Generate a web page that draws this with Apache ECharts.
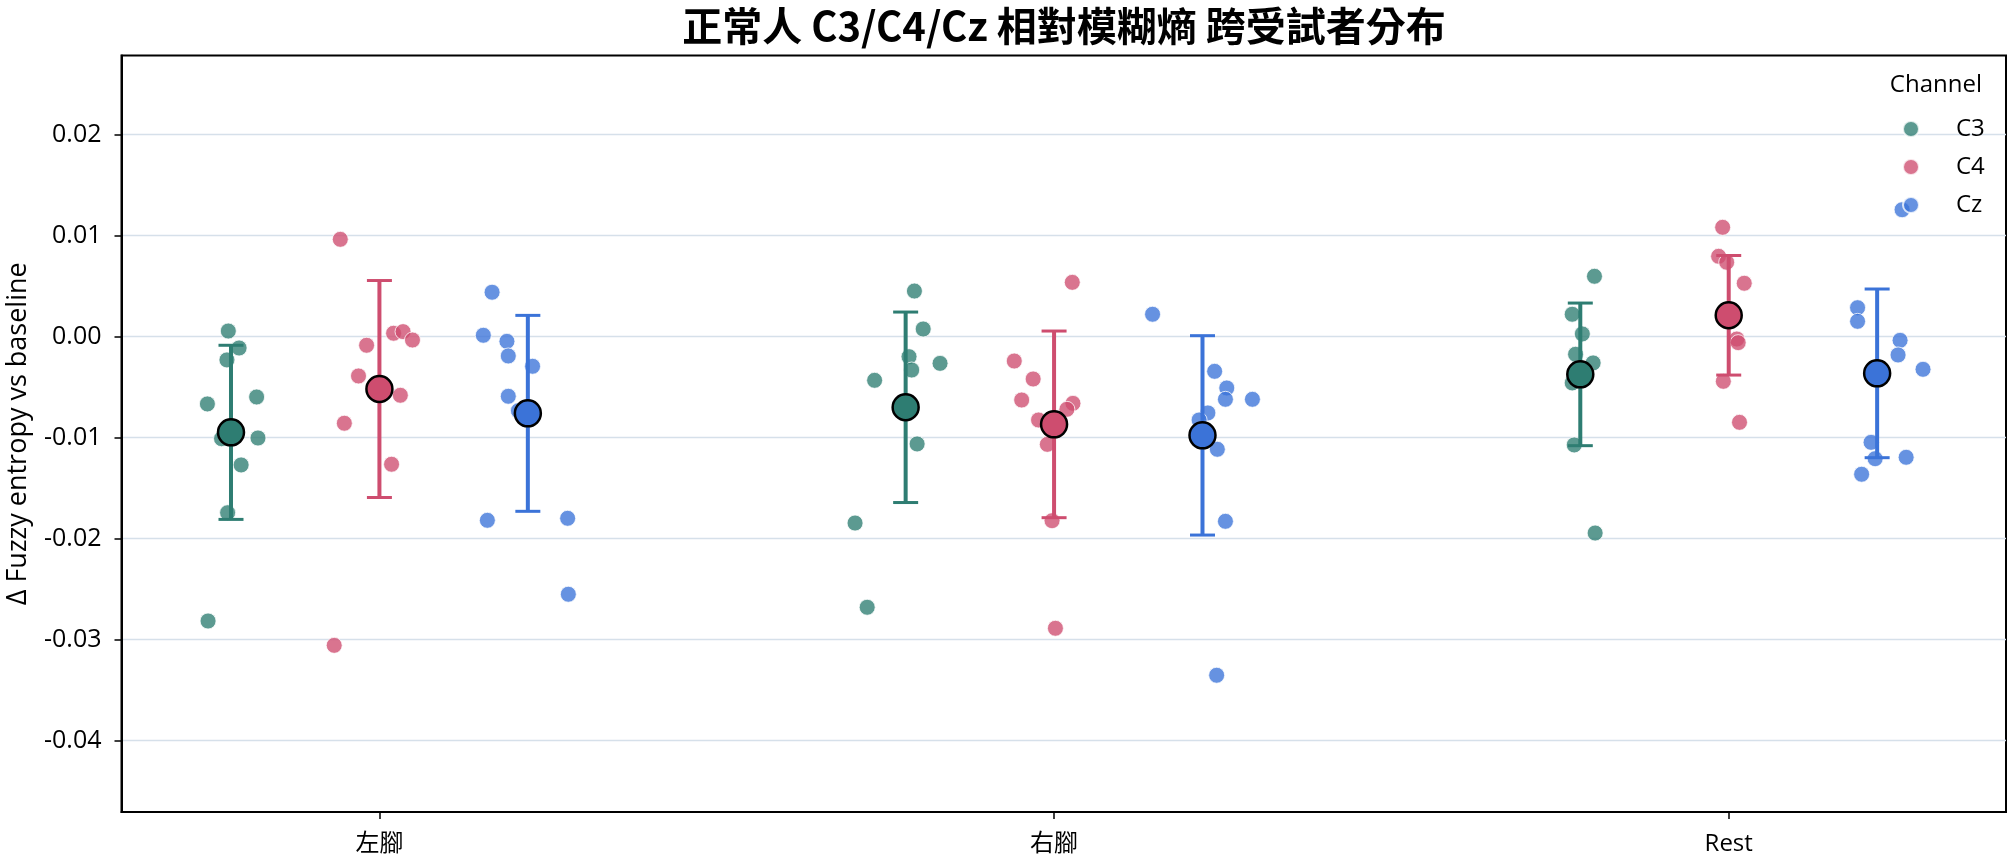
<!DOCTYPE html>
<html>
<head>
<meta charset="utf-8">
<title>正常人 C3/C4/Cz 相對模糊熵 跨受試者分布</title>
<script src="https://cdn.jsdelivr.net/npm/echarts@6/dist/echarts.min.js"></script>
<style>
  html, body { margin: 0; padding: 0; background: #fff; }
  #main { width: 2015px; height: 864px; }
</style>
</head>
<body>
<div id="main"></div>
<script>
// conditions on the x axis, channels in the legend
var conditions = ['左腳', '右腳', 'Rest'];
var channels = ['C3', 'C4', 'Cz'];
var yTicks = [-0.04, -0.03, -0.02, -0.01, 0.00, 0.01, 0.02];

// per-subject values, one array per condition (左腳, 右腳, Rest)
var c3Values = [
    [0.00056, -0.00112, -0.0023, -0.00666, -0.00597, -0.0101, -0.01003, -0.0127, -0.01743, -0.02815],
    [0.00452, 0.00076, -0.00198, -0.0033, -0.00264, -0.00432, -0.01062, -0.01845, -0.02679, -0.0071],
    [0.00598, 0.00222, 0.00027, -0.00174, -0.0026, -0.00458, -0.01072, -0.01944, -0.0032, -0.0035]
];
var c4Values = [
    [0.00964, 0.00034, 0.0005, -0.00033, -0.00085, -0.00389, -0.0058, -0.00857, -0.01263, -0.03056],
    [0.00538, -0.00241, -0.00419, -0.00627, -0.0066, -0.00719, -0.00825, -0.01066, -0.01822, -0.02887],
    [0.01083, 0.00796, 0.00737, 0.00529, -0.00023, -0.00059, -0.00442, -0.00848, 0.0016, 0.0019]
];
var czValues = [
    [0.0044, 0.00014, -0.00046, -0.00191, -0.00293, -0.0059, -0.00733, -0.01818, -0.01798, -0.0255],
    [0.00222, -0.00343, -0.00508, -0.0062, -0.0062, -0.00755, -0.00825, -0.01115, -0.01828, -0.03352],
    [0.01257, 0.00287, 0.00152, -0.00036, -0.00181, -0.00323, -0.01046, -0.01208, -0.01194, -0.01362]
];

// horizontal jitter of each dot (x units, around the channel's dodge position)
var c3Jitter = [
    [-0.004, 0.012, -0.006, -0.035, 0.038, -0.014, 0.040, 0.015, -0.005, -0.034],
    [0.013, 0.026, 0.005, 0.009, 0.051, -0.046, 0.017, -0.075, -0.057, 0.0],
    [0.021, -0.012, 0.003, -0.007, 0.019, -0.012, -0.009, 0.022, -0.003, 0.008]
];
var c4Jitter = [
    [-0.058, 0.021, 0.035, 0.049, -0.019, -0.031, 0.031, -0.052, 0.018, -0.067],
    [0.027, -0.059, -0.031, -0.048, 0.028, 0.019, -0.023, -0.010, -0.003, 0.002],
    [-0.009, -0.015, -0.003, 0.023, 0.012, 0.014, -0.008, 0.016, 0.002, 0.008]
];
var czJitter = [
    [-0.053, -0.066, -0.031, -0.029, 0.007, -0.029, -0.014, -0.060, 0.059, 0.060],
    [-0.074, 0.018, 0.036, 0.034, 0.074, 0.008, -0.005, 0.022, 0.034, 0.021],
    [0.037, -0.029, -0.029, 0.034, 0.031, 0.068, -0.009, -0.003, 0.043, -0.023]
];

// group mean and SD (error bar half-length)
var c3Mean = [-0.00947, -0.00699, -0.00373];
var c3Sd = [0.00862, 0.00943, 0.00706];
var c4Mean = [-0.00518, -0.00868, 0.00212];
var c4Sd = [0.01074, 0.00924, 0.00592];
var czMean = [-0.00759, -0.00977, -0.00363];
var czSd = [0.0097, 0.00987, 0.00835];

var colors = ['#2e7d72', '#ce4d6f', '#3b73d8'];
var dodge = [-0.22, 0, 0.22];

var values = [c3Values, c4Values, czValues];
var jitters = [c3Jitter, c4Jitter, czJitter];
var means = [c3Mean, c4Mean, czMean];
var sds = [c3Sd, c4Sd, czSd];

var fontLatin = "'Open Sans', 'Noto Sans CJK TC', sans-serif";

function stripData(ci) {
    var out = [];
    for (var k = 0; k < conditions.length; k++) {
        for (var j = 0; j < values[ci][k].length; j++) {
            out.push([k + dodge[ci] + jitters[ci][k][j], values[ci][k][j]]);
        }
    }
    return out;
}

function summaryData(ci) {
    var out = [];
    for (var k = 0; k < conditions.length; k++) {
        out.push([k + dodge[ci], means[ci][k], sds[ci][k]]);
    }
    return out;
}

function errorBar(color) {
    return function (params, api) {
        var x = api.value(0), m = api.value(1), sd = api.value(2);
        var top = api.coord([x, m + sd]);
        var bot = api.coord([x, m - sd]);
        var half = 12.5;
        return {
            type: 'group',
            children: [
                { type: 'line', shape: { x1: top[0], y1: top[1], x2: bot[0], y2: bot[1] },
                  style: { stroke: color, lineWidth: 4 } },
                { type: 'line', shape: { x1: top[0] - half, y1: top[1], x2: top[0] + half, y2: top[1] },
                  style: { stroke: color, lineWidth: 3 } },
                { type: 'line', shape: { x1: bot[0] - half, y1: bot[1], x2: bot[0] + half, y2: bot[1] },
                  style: { stroke: color, lineWidth: 3 } }
            ]
        };
    };
}

var series = [];
channels.forEach(function (ch, ci) {
    series.push({
        name: ch,
        type: 'scatter',
        data: stripData(ci),
        symbolSize: 16,
        itemStyle: { color: colors[ci], opacity: 0.78, borderColor: '#fff', borderWidth: 1 },
        z: 2
    });
});
channels.forEach(function (ch, ci) {
    series.push({
        name: ch + ' sd',
        type: 'custom',
        data: summaryData(ci),
        encode: { x: 0, y: 1 },
        renderItem: errorBar(colors[ci]),
        z: 3
    });
});
channels.forEach(function (ch, ci) {
    series.push({
        name: ch + ' mean',
        type: 'scatter',
        data: summaryData(ci).map(function (d) { return [d[0], d[1]]; }),
        symbolSize: 26,
        itemStyle: { color: colors[ci], opacity: 1, borderColor: '#000', borderWidth: 2.5 },
        z: 4
    });
});

var dom = document.getElementById('main');
var myChart = echarts.init(dom, null, { renderer: 'canvas' });

var option = {
    animation: false,
    backgroundColor: '#fff',
    title: {
        text: '正常人 C3/C4/Cz 相對模糊熵 跨受試者分布',
        left: 1064,
        top: 6,
        padding: 0,
        textAlign: 'center',
        textStyle: {
            fontFamily: "'Noto Sans CJK TC', sans-serif",
            fontWeight: 'bold',
            fontSize: 40,
            color: '#000'
        }
    },
    legend: {
        data: channels,
        orient: 'vertical',
        left: 1902,
        top: 117,
        padding: 0,
        itemWidth: 16,
        itemHeight: 16,
        itemGap: 14,
        icon: 'circle',
        textStyle: {
            fontFamily: fontLatin,
            fontSize: 24,
            lineHeight: 24,
            color: '#000',
            padding: [0, 0, 0, 32]
        }
    },
    graphic: [{
        type: 'text',
        right: 2015 - 1982,
        top: 73,
        style: {
            text: 'Channel',
            fontFamily: fontLatin,
            fontSize: 24,
            fill: '#000'
        }
    }],
    grid: {
        left: 121.5,
        right: 9,
        top: 55.5,
        bottom: 52,
        containLabel: false,
        outerBoundsMode: 'none',
        show: true,
        borderColor: '#000',
        borderWidth: 2
    },
    xAxis: {
        type: 'value',
        min: -0.3823,
        max: 2.411,
        axisLine: { show: true, onZero: false, lineStyle: { color: '#000', width: 2 } },
        axisTick: { show: true, length: 7, customValues: [0, 1, 2], lineStyle: { color: '#000', width: 1.5 } },
        axisLabel: {
            customValues: [0, 1, 2],
            formatter: function (v) { return conditions[Math.round(v)]; },
            margin: 20,
            fontFamily: fontLatin,
            fontSize: 24,
            color: '#000'
        },
        splitLine: { show: false }
    },
    yAxis: {
        type: 'value',
        min: -0.04706,
        max: 0.02784,
        name: 'Δ Fuzzy entropy vs baseline',
        nameLocation: 'middle',
        nameGap: 90,
        nameTextStyle: { fontFamily: fontLatin, fontSize: 27, color: '#000' },
        axisLine: { show: true, onZero: false, lineStyle: { color: '#000', width: 2 } },
        axisTick: { show: true, length: 7, customValues: yTicks, lineStyle: { color: '#000', width: 1.5 } },
        axisLabel: {
            customValues: yTicks,
            formatter: function (v) { return v.toFixed(2); },
            margin: 20,
            fontFamily: fontLatin,
            fontSize: 25,
            color: '#000'
        },
        splitLine: { show: true, lineStyle: { color: '#d6e0ea', width: 1.3 } }
    },
    series: series
};

if (option && typeof option === "object") {
    myChart.setOption(option, true);
}
</script>
</body>
</html>
